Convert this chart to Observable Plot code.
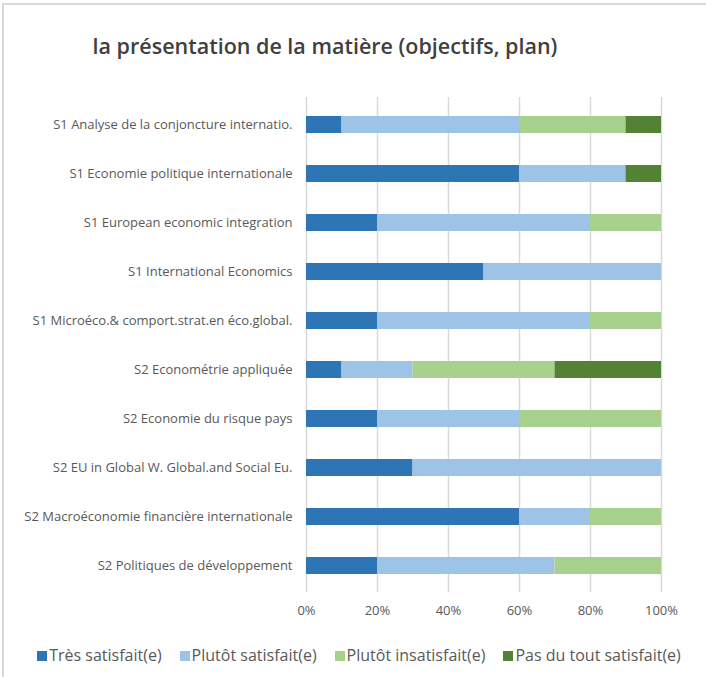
<!DOCTYPE html>
<html>
<head>
<meta charset="utf-8">
<script src="https://cdn.jsdelivr.net/npm/d3@7"></script>
<script src="https://cdn.jsdelivr.net/npm/@observablehq/plot@0.6"></script>
<style>
  html, body { margin: 0; padding: 0; background: #fff; }
  body { width: 706px; height: 677px; position: relative; overflow: hidden; font-family: "Open Sans", sans-serif; }
  #frame { position: absolute; left: 2px; top: 3px; width: 720px; height: 700px; border-left: 2px solid #d9d9d9; border-top: 2px solid #d9d9d9; box-sizing: border-box; }
  #title { position: absolute; left: 0; width: 650px; top: 31px; text-align: center; font-size: 21.5px; color: #404040; font-weight: 600; white-space: nowrap; }
  #chart { position: absolute; left: 0; top: 0; }
  #legend { position: absolute; left: 0; width: 718px; top: 644px; text-align: center; font-size: 16px; color: #595959; white-space: nowrap; }
  #legend span.item { margin: 0 9px; }
  #legend span.sw { display: inline-block; width: 10px; height: 10px; margin-right: 2px; vertical-align: 0px; }
</style>
</head>
<body>
<div id="frame"></div>
<div id="chart"></div>
<div id="title">la présentation de la matière (objectifs, plan)</div>
<div id="legend"></div>
<script>
const categories = [
  "S1 Analyse de la conjoncture internatio.",
  "S1 Economie politique internationale",
  "S1 European economic integration",
  "S1 International Economics",
  "S1 Microéco.& comport.strat.en éco.global.",
  "S2 Econométrie appliquée",
  "S2 Economie du risque pays",
  "S2 EU in Global W. Global.and Social Eu.",
  "S2 Macroéconomie financière internationale",
  "S2 Politiques de développement"
];
const series = ["Très satisfait(e)", "Plutôt satisfait(e)", "Plutôt insatisfait(e)", "Pas du tout satisfait(e)"];
const tresSatisfait     = [10, 60, 20, 50, 20, 10, 20, 30, 60, 20];
const plutotSatisfait   = [50, 30, 60, 50, 60, 20, 40, 70, 20, 50];
const plutotInsatisfait = [30,  0, 20,  0, 20, 40, 40,  0, 20, 30];
const pasDuTout         = [10, 10,  0,  0,  0, 30,  0,  0,  0,  0];
const colors = ["#2E75B6", "#9DC3E6", "#A9D18E", "#548235"];
const xTicks = [0, 20, 40, 60, 80, 100];

const seriesValues = [tresSatisfait, plutotSatisfait, plutotInsatisfait, pasDuTout];
const data = [];
categories.forEach((c, i) => {
  series.forEach((s, j) => {
    data.push({category: c, series: s, value: seriesValues[j][i]});
  });
});

const chart = Plot.plot({
  width: 706,
  height: 630,
  marginTop: 97,
  marginBottom: 38,
  marginLeft: 306,
  marginRight: 45,
  style: { fontFamily: "Open Sans, sans-serif", fontSize: "12px", color: "#595959", background: "transparent" },
  x: { domain: [0, 100], ticks: xTicks, tickFormat: d => d + "%", label: null },
  y: { domain: categories, paddingInner: 0.655, paddingOuter: 0.3275, label: null },
  color: { domain: series, range: colors },
  marks: [
    Plot.gridX(xTicks, { stroke: "#d9d9d9", strokeOpacity: 1, strokeWidth: 1.5 }),
    Plot.barX(data, Plot.stackX({ x: "value", y: "category", fill: "series", order: series })),
    Plot.axisX({ ticks: xTicks, tickFormat: d => d + "%", tickSize: 0, tickPadding: 13, fontSize: 13, label: null }),
    Plot.axisY({ tickSize: 0, tickPadding: 14, label: null, fontSize: 13 })
  ]
});
document.getElementById("chart").appendChild(chart);

const legend = document.getElementById("legend");
series.forEach((s, j) => {
  const item = document.createElement("span");
  item.className = "item";
  const sw = document.createElement("span");
  sw.className = "sw";
  sw.style.background = colors[j];
  item.appendChild(sw);
  item.appendChild(document.createTextNode(s));
  legend.appendChild(item);
});
</script>
</body>
</html>
